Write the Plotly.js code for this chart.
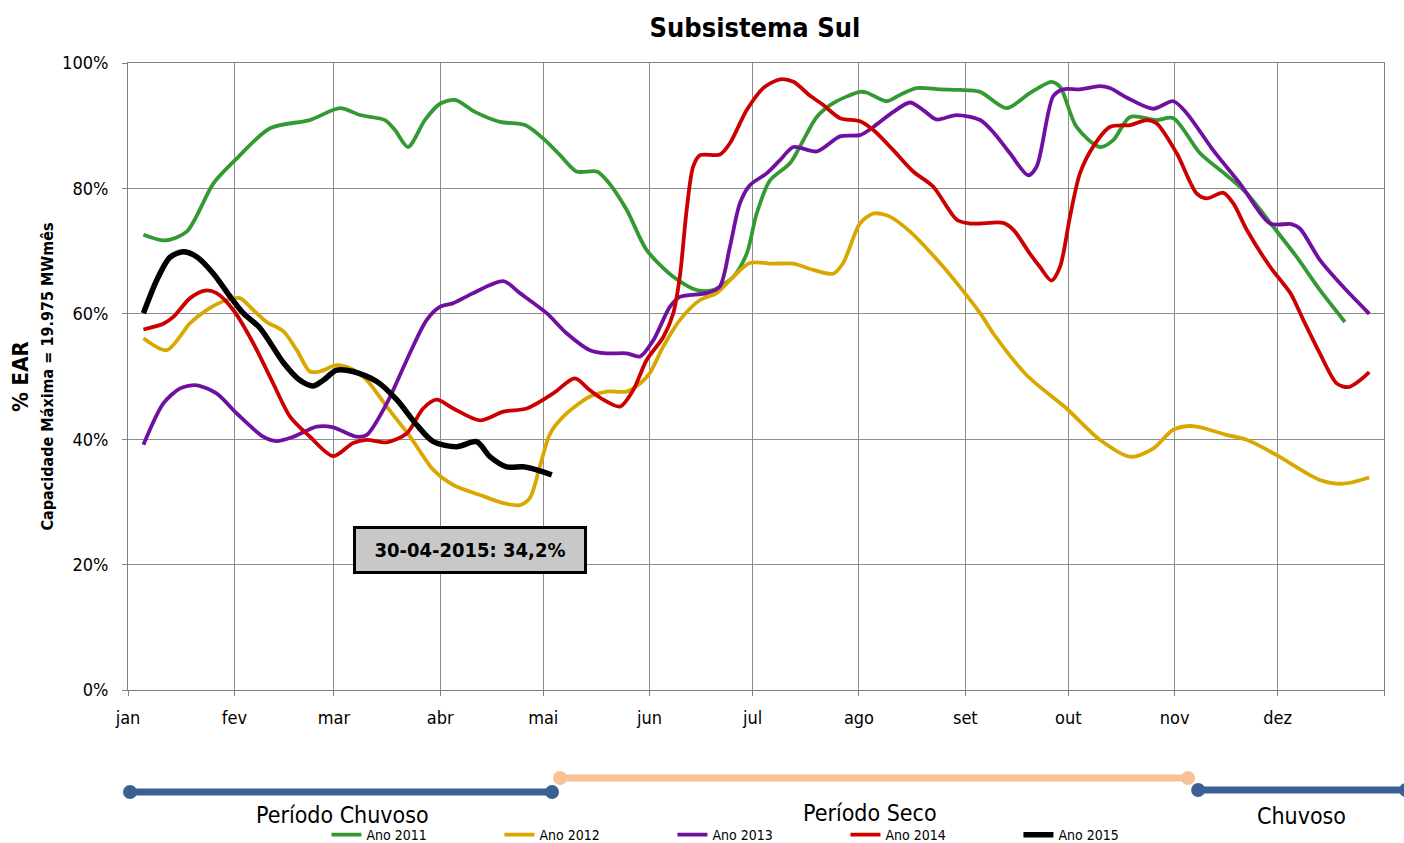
<!DOCTYPE html>
<html>
<head>
<meta charset="utf-8">
<script src="https://cdn.plot.ly/plotly-3.0.1.min.js"></script>
<style>html,body{margin:0;padding:0;background:#fff;}#chart{width:1404px;height:843px;}</style>
</head>
<body>
<div id="chart"></div>
<script>
// x = day of year (0 = 1 jan), y = % EAR
const monthTickDays = [0, 31, 60, 91, 121, 152, 182, 213, 244, 274, 305, 335];
const monthLabels = ["jan", "fev", "mar", "abr", "mai", "jun", "jul", "ago", "set", "out", "nov", "dez"];

const days2011 = [4.5, 10.8, 17.1, 24.9, 31.2, 41.4, 53.0, 61.8, 67.6, 74.9, 77.8, 81.6, 86.5, 90.9, 95.3, 101.1, 108.4, 115.7, 121.5, 125.9, 130.7, 136.6, 139.5, 145.3, 151.1, 158.9, 165.7, 170.5, 176.4, 180.3, 183.2, 187.1, 192.9, 196.8, 200.7, 205.5, 213.3, 215.2, 221.1, 224.9, 229.8, 236.6, 242.4, 248.3, 256.0, 262.8, 269.1, 271.6, 276.4, 283.2, 287.1, 292.0, 299.7, 304.6, 312.4, 320.1, 326.0, 333.7, 340.5, 347.3, 354.6];
const ear2011 = [72.6, 71.7, 73.1, 80.8, 84.5, 89.6, 90.9, 92.8, 91.7, 90.9, 89.3, 86.6, 90.9, 93.5, 94.1, 92.2, 90.6, 90.1, 87.7, 85.3, 82.7, 82.7, 81.3, 76.6, 70.2, 65.9, 63.8, 63.8, 65.9, 69.6, 76.0, 81.3, 84.0, 87.7, 91.4, 93.6, 95.4, 95.3, 93.9, 94.9, 96.0, 95.8, 95.7, 95.4, 92.8, 95.2, 97.0, 96.2, 89.8, 86.6, 87.7, 91.4, 90.9, 91.2, 85.6, 82.1, 79.2, 73.9, 69.1, 63.8, 58.7];

const days2012 = [4.5, 11.3, 18.1, 22.9, 28.8, 32.6, 36.5, 40.4, 45.3, 49.2, 53.0, 55.9, 60.8, 65.6, 69.6, 75.4, 82.2, 89.0, 94.8, 102.6, 109.4, 114.2, 117.1, 120.0, 123.0, 127.8, 134.6, 139.5, 145.3, 149.2, 152.0, 156.0, 160.8, 166.7, 171.5, 176.4, 181.2, 188.0, 193.9, 199.7, 205.5, 208.4, 213.3, 217.2, 222.0, 227.9, 236.6, 242.4, 248.3, 252.1, 261.9, 273.5, 283.2, 292.0, 298.7, 304.6, 310.4, 320.1, 326.0, 334.6, 347.3, 354.1, 361.7];
const ear2012 = [56.1, 54.2, 58.5, 60.6, 62.2, 62.5, 60.6, 58.7, 57.2, 54.2, 50.8, 50.8, 51.8, 51.1, 49.4, 45.2, 40.4, 35.1, 32.7, 31.1, 29.8, 29.5, 30.6, 35.6, 40.9, 44.1, 46.8, 47.6, 47.6, 48.9, 50.5, 54.8, 59.0, 62.2, 63.3, 65.9, 68.1, 68.0, 68.0, 67.0, 66.4, 68.1, 74.4, 76.0, 75.5, 73.1, 68.1, 64.3, 60.1, 56.9, 50.2, 44.9, 39.9, 37.2, 38.5, 41.5, 42.1, 40.7, 39.9, 37.5, 33.5, 32.9, 33.9];

const days2013 = [4.5, 10.3, 15.2, 20.0, 25.8, 31.7, 39.4, 43.3, 48.2, 55.0, 59.8, 66.6, 69.6, 75.4, 81.2, 87.0, 90.9, 94.8, 100.6, 109.4, 114.2, 122.0, 127.8, 134.6, 139.5, 145.3, 149.2, 153.1, 157.9, 160.8, 168.6, 172.4, 175.4, 178.3, 181.2, 186.1, 190.0, 193.9, 200.7, 207.5, 213.3, 217.2, 223.0, 227.9, 231.7, 235.6, 241.5, 248.3, 252.1, 257.0, 262.3, 264.8, 269.6, 272.5, 277.4, 283.2, 286.1, 291.0, 298.7, 304.6, 308.5, 316.2, 324.0, 332.8, 339.0, 341.5, 347.3, 354.1, 361.7];
const ear2013 = [39.1, 45.7, 48.1, 48.6, 47.3, 44.1, 40.4, 39.7, 40.4, 42.0, 41.9, 40.4, 40.7, 45.7, 52.6, 59.0, 61.1, 61.7, 63.3, 65.2, 63.3, 60.1, 56.9, 54.2, 53.7, 53.7, 53.2, 55.8, 61.1, 62.7, 63.3, 64.3, 70.7, 77.6, 80.5, 82.4, 84.5, 86.6, 85.9, 88.3, 88.5, 89.8, 92.2, 93.7, 92.5, 91.0, 91.7, 90.9, 89.0, 85.6, 82.1, 83.5, 94.7, 95.8, 95.8, 96.3, 96.0, 94.5, 92.7, 93.9, 92.0, 86.1, 80.8, 74.4, 74.3, 73.6, 68.6, 64.3, 60.0];

const days2014 = [4.5, 10.3, 13.2, 18.1, 22.4, 25.8, 30.7, 36.5, 42.3, 47.2, 53.0, 59.8, 65.6, 69.6, 75.4, 81.2, 86.0, 89.9, 94.8, 102.6, 109.4, 116.2, 123.9, 130.2, 134.6, 138.5, 143.4, 147.2, 151.1, 156.0, 158.9, 160.8, 162.8, 164.7, 166.7, 172.5, 175.4, 180.3, 185.1, 190.0, 193.9, 198.7, 202.6, 207.5, 213.3, 217.2, 223.0, 228.8, 234.6, 241.5, 245.3, 248.3, 255.0, 258.0, 262.8, 265.7, 269.1, 271.6, 274.5, 277.4, 281.3, 286.1, 292.0, 296.8, 299.7, 305.6, 311.4, 314.3, 319.2, 322.1, 326.0, 332.8, 338.7, 342.5, 347.3, 352.2, 355.6, 359.0, 361.7];
const ear2014 = [57.5, 58.4, 59.5, 62.5, 63.7, 63.3, 60.6, 55.3, 48.9, 43.6, 40.4, 37.3, 39.4, 39.9, 39.5, 40.9, 44.9, 46.3, 44.9, 43.0, 44.4, 44.9, 47.3, 49.7, 47.8, 46.3, 45.2, 47.8, 52.6, 56.3, 60.1, 65.9, 76.6, 83.5, 85.3, 85.4, 87.2, 92.5, 96.0, 97.4, 97.0, 94.8, 93.3, 91.2, 90.7, 89.3, 86.1, 82.7, 80.3, 75.0, 74.4, 74.4, 74.5, 73.4, 69.6, 67.5, 65.3, 67.5, 75.5, 82.4, 86.7, 89.8, 90.1, 90.9, 90.4, 85.6, 79.2, 78.4, 79.3, 77.6, 73.4, 67.5, 63.3, 59.0, 53.7, 48.9, 48.3, 49.4, 50.7];

const days2015 = [4.5, 8.4, 12.2, 16.1, 20.0, 24.9, 29.7, 33.6, 38.5, 45.3, 50.1, 54.0, 56.9, 60.8, 65.6, 72.5, 78.3, 84.1, 89.0, 95.8, 101.6, 105.5, 110.3, 115.2, 119.1, 123.5];
const ear2015 = [60.1, 65.4, 69.0, 69.9, 69.1, 66.4, 62.8, 60.1, 57.7, 52.2, 49.4, 48.5, 49.4, 51.0, 50.8, 49.2, 46.3, 42.3, 39.6, 38.8, 39.6, 37.2, 35.6, 35.6, 35.1, 34.3];

const seriesNames = ["Ano 2011", "Ano 2012", "Ano 2013", "Ano 2014", "Ano 2015"];
const lastLabel = "30-04-2015: 34,2%";
const periodLabels = ["Período Chuvoso", "Período Seco", "Chuvoso"];

const NARROW = "'Liberation Sans Narrow', 'Arial Narrow', 'DejaVu Sans Condensed', Arial, sans-serif";

function line(name, x, y, color, width) {
  return {
    type: "scatter", mode: "lines", name: name, x: x, y: y,
    line: {color: color, width: width, shape: "spline", smoothing: 0.8},
    hoverinfo: "skip"
  };
}

const traces = [
  line(seriesNames[0], days2011, ear2011, "#339933", 3.8),
  line(seriesNames[1], days2012, ear2012, "#d9a800", 3.8),
  line(seriesNames[2], days2013, ear2013, "#7010a0", 3.8),
  line(seriesNames[3], days2014, ear2014, "#cc0000", 3.8),
  line(seriesNames[4], days2015, ear2015, "#000000", 5.5)
];

function circle(xp, yp, color) {
  return {type: "circle", xref: "paper", yref: "paper", xsizemode: "pixel", ysizemode: "pixel",
    xanchor: xp, yanchor: yp, x0: -7, x1: 7, y0: -7, y1: 7,
    fillcolor: color, line: {width: 0}};
}
const BLUE = "#3a6191", ORANGE = "#f9c195";

function paperText(text, x, y, size, angle) {
  return {text: text, xref: "paper", yref: "paper", x: x, y: y, xanchor: "center", yanchor: "middle",
    textangle: angle || 0, showarrow: false, font: {family: NARROW, size: size, color: "#000"}};
}

const layout = {
  width: 1404, height: 843,
  margin: {l: 128, r: 20, t: 63, b: 153, autoexpand: false},
  paper_bgcolor: "#fff", plot_bgcolor: "#fff",
  font: {family: NARROW, color: "#000"},
  title: {text: "<b>Subsistema Sul</b>", font: {family: NARROW, size: 27, color: "#000"},
          x: 0.5377, xanchor: "center", y: 0.967, yanchor: "middle"},
  xaxis: {
    range: [0, 366], tickmode: "array", tickvals: monthTickDays.concat([366]), ticktext: monthLabels.concat([""]),
    showgrid: true, gridcolor: "#8c8c8c", gridwidth: 1,
    showline: true, linecolor: "#808080", linewidth: 1, mirror: true,
    ticks: "outside", ticklen: 5, tickcolor: "#808080", ticklabelstandoff: 6,
    tickfont: {family: NARROW, size: 18, color: "#000"}, zeroline: false, fixedrange: true
  },
  yaxis: {
    range: [0, 100], tickmode: "array", tickvals: [0, 20, 40, 60, 80, 100],
    ticktext: ["0%", "20%", "40%", "60%", "80%", "100%"],
    showgrid: true, gridcolor: "#8c8c8c", gridwidth: 1,
    showline: true, linecolor: "#808080", linewidth: 1, mirror: true,
    ticks: "outside", ticklen: 5, tickcolor: "#808080", ticklabelstandoff: 10,
    tickfont: {family: NARROW, size: 18, color: "#000"}, zeroline: false, fixedrange: true
  },
  showlegend: true,
  legend: {orientation: "h", x: 0.158, xanchor: "left", y: -0.2313, yanchor: "middle",
           font: {family: NARROW, size: 14, color: "#000"}, entrywidth: 128, entrywidthmode: "pixels",
           itemwidth: 30, tracegroupgap: 0, bgcolor: "rgba(0,0,0,0)"},
  shapes: [
    {type: "line", xref: "paper", yref: "paper", x0: 0.0016, x1: 0.3376, y0: -0.1627, y1: -0.1627, line: {color: BLUE, width: 7}},
    circle(0.0016, -0.1627, BLUE), circle(0.3376, -0.1627, BLUE),
    {type: "line", xref: "paper", yref: "paper", x0: 0.344, x1: 0.844, y0: -0.1404, y1: -0.1404, line: {color: ORANGE, width: 7}},
    circle(0.344, -0.1404, ORANGE), circle(0.844, -0.1404, ORANGE),
    {type: "line", xref: "paper", yref: "paper", x0: 0.852, x1: 1.03, y0: -0.1595, y1: -0.1595, line: {color: BLUE, width: 7}},
    circle(0.852, -0.1595, BLUE), circle(1.0175, -0.1595, BLUE)
  ],
  annotations: [
    {text: "<b>" + lastLabel + "</b>", xref: "x", yref: "y", x: 99.7, y: 22.3, showarrow: false,
     font: {family: NARROW, size: 20, color: "#000"}, bgcolor: "#c8c8c8", bordercolor: "#000", borderwidth: 3,
     borderpad: 9, width: 210},
    paperText("<b>% EAR</b>", -0.0855, 0.5, 22, -90),
    paperText("<b>Capacidade Máxima = 19.975 MWmês</b>", -0.0637, 0.5, 16, -90),
    paperText(periodLabels[0], 0.171, -0.1996, 23),
    paperText(periodLabels[1], 0.591, -0.1964, 23),
    paperText(periodLabels[2], 0.9347, -0.2004, 23)
  ]
};

Plotly.newPlot("chart", traces, layout, {displayModeBar: false, staticPlot: true});
</script>
</body>
</html>
